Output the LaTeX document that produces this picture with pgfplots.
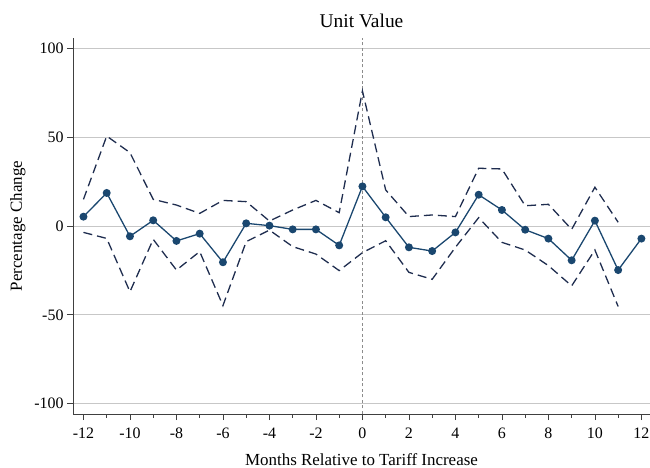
\documentclass[border=0pt]{standalone}
\usepackage{fontspec}
\setmainfont{Liberation Serif}
\usepackage{pgfplots}
\pgfplotsset{compat=1.18}
\definecolor{mainblue}{HTML}{1A476F}
\definecolor{cinavy}{HTML}{1F2D4F}
\begin{document}
\begin{tikzpicture}
\useasboundingbox (0,0) rectangle (650bp,468bp);
\begin{axis}[
 at={(73bp,54bp)}, anchor=south west,
 scale only axis, width=577bp, height=376bp,
 xmin=-12.45, xmax=12.37, ymin=-105.8, ymax=105.8,
 axis x line*=bottom, axis y line*=left,
 axis line style={black!75, line width=0.9pt, -},
 xtick={-12,-10,...,12}, minor xtick={-11,-9,...,11},
 ytick={-100,-50,0,50,100},
 tick align=outside, tick style={black!75, line width=0.8pt},
 major tick length=6bp, minor tick length=3.5bp,
 xtick pos=bottom, ytick pos=left,
 ymajorgrids, grid style={black!22, line width=0.7pt},
 /pgf/number format/assume math mode=true,
 ticklabel style={font=\fontsize{16}{18}\selectfont},
 xticklabel style={yshift=-4bp},
 title={Unit Value},
 title style={font=\fontsize{19.5}{22}\selectfont, yshift=1bp},
 xlabel={Months Relative to Tariff Increase},
 ylabel={Percentage Change},
 label style={font=\fontsize{17}{20}\selectfont},
 xlabel style={yshift=-8bp},
 ylabel style={yshift=2bp},
 clip=false,
]
\addplot[black!45, line width=0.8pt, dash pattern=on 3bp off 2.5bp] coordinates {(0,-105.8) (0,105.8)};
\addplot[cinavy, line width=1.3pt, dash pattern=on 9bp off 5bp] coordinates {
(-12,15.0) (-11,50.6) (-10,41.3) (-9,15.0) (-8,11.8) (-7,7.1) (-6,14.4) (-5,13.7)
(-4,2.8) (-3,9.0) (-2,14.4) (-1,7.5) (0,76.0) (1,20.3) (2,5.3) (3,6.2) (4,5.3)
(5,32.5) (6,32.1) (7,11.4) (8,12.2) (9,-1.9) (10,21.8) (11,2.1)};
\addplot[cinavy, line width=1.3pt, dash pattern=on 9bp off 5bp] coordinates {
(-12,-3.6) (-11,-7.0) (-10,-37.0) (-9,-7.5) (-8,-24.8) (-7,-14.4) (-6,-44.8) (-5,-8.8)
(-4,-2.3) (-3,-11.6) (-2,-15.8) (-1,-25.1) (0,-15.0) (1,-8.3) (2,-26.1) (3,-30.0) (4,-12.0)
(5,4.7) (6,-9.2) (7,-13.5) (8,-22.3) (9,-33.7) (10,-13.5) (11,-45.3)};
\addplot[mainblue, line width=1.3pt, mark=*, mark size=3.3bp, mark options={fill=mainblue, draw=mainblue}] coordinates {
(-12,5.25) (-11,18.6) (-10,-5.8) (-9,3.2) (-8,-8.4) (-7,-4.3) (-6,-20.4) (-5,1.5)
(-4,0.2) (-3,-1.9) (-2,-1.9) (-1,-10.9) (0,22.3) (1,4.9) (2,-12.0) (3,-14.1) (4,-3.6)
(5,17.6) (6,9.0) (7,-2.1) (8,-7.1) (9,-19.3) (10,3.0) (11,-24.8) (12,-7.1)};
\end{axis}
\end{tikzpicture}
\end{document}
